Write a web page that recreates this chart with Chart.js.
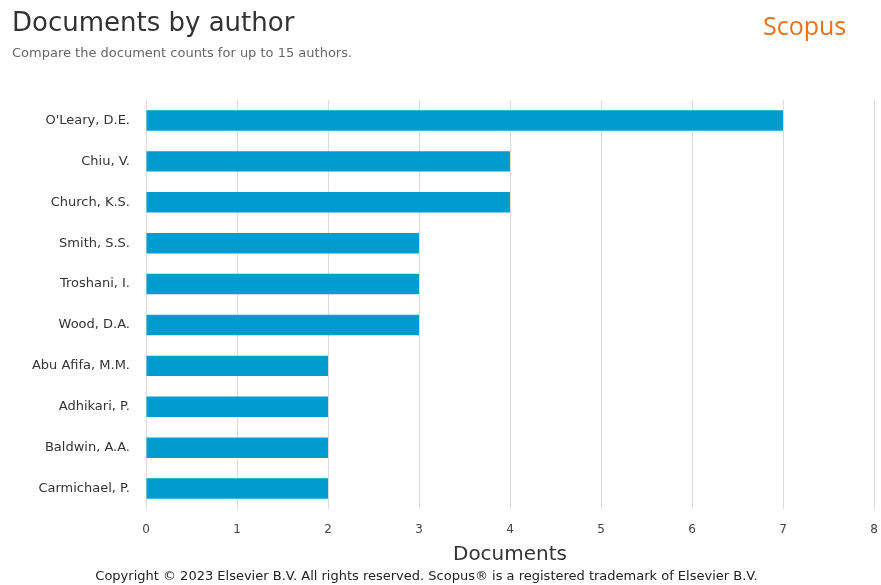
<!DOCTYPE html>
<html lang="en">
<head>
<meta charset="UTF-8">
<title>Documents by author</title>
<style>
  body { margin: 0; background: #fff; font-family: "DejaVu Sans", sans-serif; }
  #wrap { position: relative; width: 881px; height: 585px; }
  #chart { position: absolute; left: 0; top: 0; }
  .txt { position: absolute; white-space: nowrap; }
  #title { left: 12px; top: 7px; font-size: 26px; color: #333; }
  #sub { left: 12px; top: 45px; font-size: 13px; color: #666; }
  #brand { left: 763px; top: 8px; font-size: 25px; color: #e9711c; font-family: "Open Sans", sans-serif; }
  #copy { left: 0; width: 853px; text-align: center; top: 568px; font-size: 13px; color: #222; }
</style>
</head>
<body>
<div id="wrap">
  <canvas id="chart" width="881" height="585"></canvas>
  <div class="txt" id="title">Documents by author</div>
  <div class="txt" id="sub">Compare the document counts for up to 15 authors.</div>
  <div class="txt" id="brand">Scopus</div>
  <div class="txt" id="copy">Copyright © 2023 Elsevier B.V. All rights reserved. Scopus® is a registered trademark of Elsevier B.V.</div>
</div>

<script src="https://cdn.jsdelivr.net/npm/chart.js"></script>
<script>
  const authors = ["O'Leary, D.E.", 'Chiu, V.', 'Church, K.S.', 'Smith, S.S.', 'Troshani, I.',
                   'Wood, D.A.', 'Abu Afifa, M.M.', 'Adhikari, P.', 'Baldwin, A.A.', 'Carmichael, P.'];
  const docCounts = [7, 4, 4, 3, 3, 3, 2, 2, 2, 2];
  const xTicks = [0, 1, 2, 3, 4, 5, 6, 7, 8];

  const ctx = document.getElementById('chart').getContext('2d');
  new Chart(ctx, {
    type: 'bar',
    data: {
      labels: authors,
      datasets: [{
        label: 'Documents',
        data: docCounts,
        backgroundColor: '#009bcf',
        barPercentage: 0.5,
        categoryPercentage: 1.0
      }]
    },
    options: {
      indexAxis: 'y',
      responsive: false,
      animation: false,
      layout: { padding: { top: 100, right: 7, bottom: 18, left: 0 } },
      plugins: {
        legend: { display: false },
        tooltip: { enabled: false }
      },
      scales: {
        x: {
          min: 0,
          max: 8,
          afterBuildTicks: (s) => { s.ticks = xTicks.map(v => ({ value: v })); },
          afterFit: (s) => { s.height = 58; s.paddingRight = 0; s.paddingLeft = 0; },
          grid: { color: '#dcdcdc', drawTicks: false },
          border: { display: false },
          ticks: { padding: 14, color: '#444', font: { family: 'DejaVu Sans', size: 12 } },
          title: { display: true, text: 'Documents', color: '#333', padding: 0,
                   font: { family: 'DejaVu Sans', size: 20 } }
        },
        y: {
          afterFit: (s) => { s.width = 146; },
          grid: { display: false, drawTicks: false },
          border: { display: false },
          ticks: { padding: 16, color: '#333', font: { family: 'DejaVu Sans', size: 13 } }
        }
      }
    }
  });
</script>
</body>
</html>
